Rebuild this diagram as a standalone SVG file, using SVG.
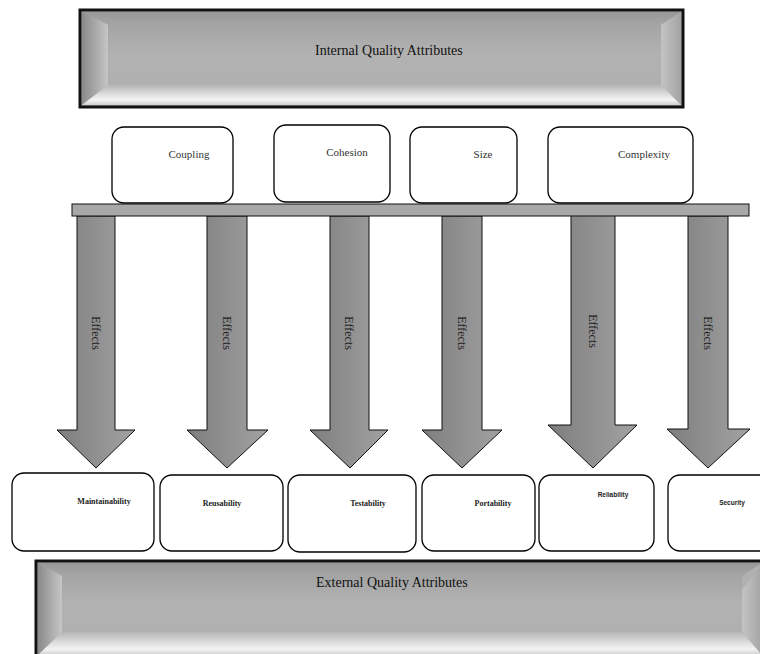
<svg xmlns="http://www.w3.org/2000/svg" width="760" height="654" viewBox="0 0 760 654">
  <defs>
    <linearGradient id="gShaft" x1="0" y1="0" x2="1" y2="0">
      <stop offset="0" stop-color="#7e7e7e"/>
      <stop offset="1" stop-color="#a2a2a2"/>
    </linearGradient>
    <linearGradient id="gTopBevel" x1="0" y1="0" x2="0" y2="1">
      <stop offset="0" stop-color="#979797"/>
      <stop offset="1" stop-color="#a6a6a6"/>
    </linearGradient>
    <linearGradient id="gLeftBevel" x1="0" y1="0" x2="1" y2="0">
      <stop offset="0" stop-color="#8a8a8a"/>
      <stop offset="1" stop-color="#c6c6c6"/>
    </linearGradient>
    <linearGradient id="gRightBevel" x1="0" y1="0" x2="1" y2="0">
      <stop offset="0" stop-color="#c4c4c4"/>
      <stop offset="1" stop-color="#a4a4a4"/>
    </linearGradient>
    <linearGradient id="gBottomBevel" x1="0" y1="0" x2="0" y2="1">
      <stop offset="0" stop-color="#b6b6b6"/>
      <stop offset="0.45" stop-color="#dcdcdc"/>
      <stop offset="0.75" stop-color="#f3f3f3"/>
      <stop offset="1" stop-color="#cfcfcf"/>
    </linearGradient>
    <linearGradient id="gFace" x1="0" y1="0" x2="0" y2="1">
      <stop offset="0" stop-color="#a4a4a4"/>
      <stop offset="0.5" stop-color="#b2b2b2"/>
      <stop offset="1" stop-color="#b0b0b0"/>
    </linearGradient>
  </defs>
  <style>
    .frame { fill: #b0b0b0; stroke: #111; stroke-width: 3; }
    .node { fill: #fff; stroke: #000; stroke-width: 1.3; }
    .arrow { fill: url(#gShaft); stroke: #111; stroke-width: 1; stroke-linejoin: miter; }
    .bar { fill: #a8a8a8; stroke: #111; stroke-width: 1; }
    .title { font-family: "Liberation Serif", "Times New Roman", serif; font-size: 14px; fill: #111; }
    .inner { font-family: "Liberation Serif", "Times New Roman", serif; font-size: 11px; fill: #333; text-anchor: middle; }
    .outer { font-family: "Liberation Serif", "Times New Roman", serif; font-size: 8px; font-weight: bold; fill: #222; text-anchor: middle; }
    .outer-sans { font-family: "Liberation Sans", Arial, sans-serif; font-size: 6.5px; font-weight: bold; fill: #222; text-anchor: middle; }
    .effects { font-family: "Liberation Serif", "Times New Roman", serif; font-size: 12px; fill: #222; text-anchor: middle; }
  </style>

  <rect width="760" height="654" fill="#fff"/>

  <!-- Bevelled banner: internal attributes -->
  <g id="internal-attributes">
    <rect class="frame" x="80" y="10" width="603" height="97"/>
    <polygon points="82,12 681,12 661,25 108,25" fill="url(#gTopBevel)"/>
    <polygon points="82,12 108,25 108,85 82,105" fill="url(#gLeftBevel)"/>
    <polygon points="681,12 661,25 661,85 681,105" fill="url(#gRightBevel)"/>
    <polygon points="82,105 108,85 661,85 681,105" fill="url(#gBottomBevel)"/>
    <rect x="108" y="25" width="553" height="60" fill="url(#gFace)"/>
    <text class="title" x="315" y="55">Internal Quality Attributes</text>
  </g>

  <!-- Internal attribute nodes -->
  <g id="coupling">
    <rect class="node" x="112" y="127" width="121" height="76" rx="12"/>
    <text class="inner" x="189" y="158">Coupling</text>
  </g>
  <g id="cohesion">
    <rect class="node" x="274" y="125" width="116" height="77" rx="12"/>
    <text class="inner" x="347" y="156">Cohesion</text>
  </g>
  <g id="size">
    <rect class="node" x="410" y="127" width="107" height="76" rx="12"/>
    <text class="inner" x="483" y="158">Size</text>
  </g>
  <g id="complexity">
    <rect class="node" x="548" y="127" width="145" height="76" rx="12"/>
    <text class="inner" x="644" y="158">Complexity</text>
  </g>

  <!-- Effect arrows from the shared bar to the external attributes -->
  <g id="connectors">
    <polygon class="arrow" points="77,216 115,216 115,430 135,430 96,468 57,430 77,430"/>
    <polygon class="arrow" points="207,216 247,216 247,430 268,430 227,468 187,430 207,430"/>
    <polygon class="arrow" points="330,216 369,216 369,430 388,430 350,468 310,430 330,430"/>
    <polygon class="arrow" points="442,216 482,216 482,430 502,430 462,468 422,430 442,430"/>
    <polygon class="arrow" points="571,215 615,215 615,425 637,425 593,468 548,425 571,425"/>
    <polygon class="arrow" points="688,216 728,216 728,429 750,429 708,468 667,429 688,429"/>
    <rect class="bar" x="72" y="204" width="677" height="12"/>
    <text class="effects" transform="translate(92,333) rotate(90)">Effects</text>
    <text class="effects" transform="translate(223,333) rotate(90)">Effects</text>
    <text class="effects" transform="translate(345,333) rotate(90)">Effects</text>
    <text class="effects" transform="translate(458,333) rotate(90)">Effects</text>
    <text class="effects" transform="translate(589,331) rotate(90)">Effects</text>
    <text class="effects" transform="translate(704,333) rotate(90)">Effects</text>
  </g>

  <!-- External attribute nodes -->
  <g id="maintainability">
    <rect class="node" x="12" y="473" width="142" height="78" rx="12"/>
    <text class="outer" x="104" y="504">Maintainability</text>
  </g>
  <g id="reusability">
    <rect class="node" x="160" y="475" width="123" height="76" rx="12"/>
    <text class="outer" x="222" y="506">Reusability</text>
  </g>
  <g id="testability">
    <rect class="node" x="288" y="475" width="128" height="77" rx="12"/>
    <text class="outer" x="368" y="506">Testability</text>
  </g>
  <g id="portability">
    <rect class="node" x="422" y="475" width="113" height="76" rx="12"/>
    <text class="outer" x="493" y="506">Portability</text>
  </g>
  <g id="reliability">
    <rect class="node" x="539" y="475" width="115" height="76" rx="12"/>
    <text class="outer-sans" x="613" y="497">Reliability</text>
  </g>
  <g id="security">
    <rect class="node" x="668" y="475" width="104" height="76" rx="12"/>
    <text class="outer-sans" x="732" y="505">Security</text>
  </g>

  <!-- Bevelled banner: external attributes -->
  <g id="external-attributes">
    <rect class="frame" x="36" y="561" width="728" height="96"/>
    <polygon points="38,563 762,563 742,576 62,576" fill="url(#gTopBevel)"/>
    <polygon points="38,563 62,576 62,632 38,655" fill="url(#gLeftBevel)"/>
    <polygon points="762,563 742,590 742,632 762,655" fill="url(#gRightBevel)"/>
    <polygon points="38,655 62,632 742,632 762,655" fill="url(#gBottomBevel)"/>
    <rect x="62" y="576" width="680" height="56" fill="url(#gFace)"/>
    <text class="title" x="316" y="587">External Quality Attributes</text>
  </g>
</svg>
